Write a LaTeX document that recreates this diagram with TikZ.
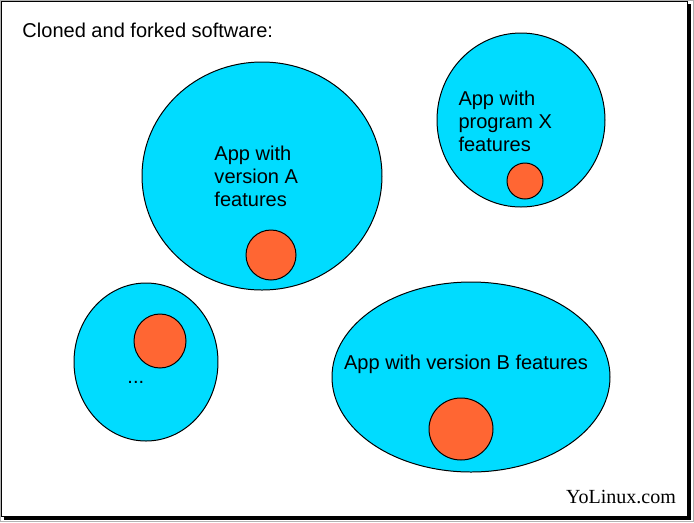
\documentclass[tikz,border=0pt]{standalone}
\usepackage{fontspec}
\setmainfont{Liberation Sans}
\newfontfamily\seriffont{Liberation Serif}
\definecolor{appcyan}{HTML}{00DCFF}
\definecolor{forkred}{HTML}{FF6633}
\begin{document}
\begin{tikzpicture}[x=0.02cm, y=-0.02cm, line width=0.567pt,
    label text/.style={inner sep=0pt, font=\fontsize{11.4}{13.05}\selectfont},
    app/.style={fill=appcyan, draw=black},
    fork/.style={fill=forkred, draw=black}]

    \useasboundingbox (0,0) rectangle (694,522);

    % Define the centres
    \coordinate (A) at (262,176);    % App with version A
    \coordinate (X) at (521,120);    % App with program X
    \coordinate (L) at (146,362);    % Lower left clone
    \coordinate (B) at (471,377);    % App with version B

    % Frame with shadow
    \draw[gray!60] (0.3,0.3) rectangle (693.7,521.7);
    \fill[black] (4,4) rectangle (691,520);
    \filldraw[fill=white, draw=black] (1.5,1.5) rectangle (687,516);

    % Title
    \node[label text, anchor=west] (title) at (22,30) {Cloned and forked software:};

    % App A with its fork
    \filldraw[app] (A) ellipse [x radius=120, y radius=114];
    \filldraw[fork] (271,255) circle [radius=25];
    \node[label text, anchor=west, align=left] (textA) at (214,176) {App with\\version A\\features};

    % App X with its fork
    \filldraw[app] (X) ellipse [x radius=84, y radius=87];
    \filldraw[fork] (525,181) circle [radius=18];
    \node[label text, anchor=west, align=left] (textX) at (458,121) {App with\\program X\\features};

    % Lower left clone
    \filldraw[app] (L) ellipse [x radius=72, y radius=79];
    \filldraw[fork] (160,341) ellipse [x radius=26, y radius=27];
    \node[label text, anchor=base west] (textL) at (127,383) {...};

    % App B with its fork
    \filldraw[app] (B) ellipse [x radius=139, y radius=95];
    \filldraw[fork] (461,429) ellipse [x radius=32, y radius=31];
    \node[label text] (textB) at (466,364) {App with version B features};

    % Site name
    \node[label text, font=\seriffont\fontsize{11.4}{13.05}\selectfont, anchor=base] (site) at (621,503) {YoLinux.com};

\end{tikzpicture}
\end{document}
